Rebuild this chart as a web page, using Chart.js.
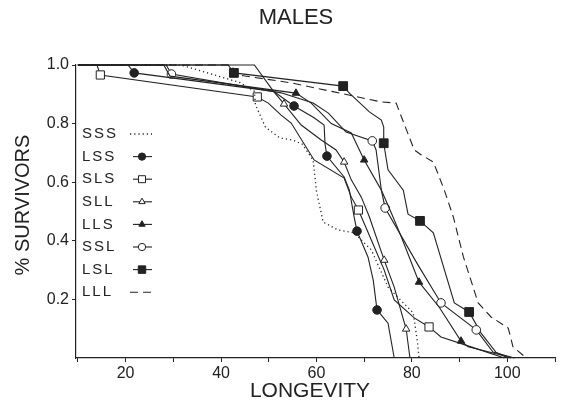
<!DOCTYPE html>
<html>
<head>
<meta charset="utf-8">
<script src="https://cdn.jsdelivr.net/npm/chart.js@4.4.0/dist/chart.umd.min.js"></script>
<style>
  html, body { margin: 0; padding: 0; background: #fff; }
</style>
</head>
<body>
<canvas id="males" width="577" height="404"></canvas>
<script>
// survival curves, [longevity, fraction surviving]
const sss = [[10,1],[31.6,1],[44,0.94],[47,0.91],[47.2,0.865],[49.3,0.788],[52.3,0.751],[55,0.744],[57,0.73],[59.3,0.676],[60,0.57],[61.4,0.464],[64.5,0.437],[67.9,0.427],[71.5,0.369],[75,0.242],[77.5,0.2],[80.3,0.154],[81.2,0.05],[81.5,0]];
const lss = [[10,1],[20.5,1],[21.8,0.973],[51,0.91],[55.3,0.86],[59.5,0.82],[61.6,0.795],[61.8,0.73],[62.2,0.689],[65.8,0.618],[66.9,0.573],[67.9,0.481],[68.5,0.433],[70.8,0.345],[71.9,0.266],[72.7,0.164],[75,0.119],[76.3,0]];
const sls = [[10,1],[14,1],[14.7,0.966],[47.6,0.891],[49.9,0.87],[52.6,0.829],[54.7,0.802],[59.5,0.676],[65.8,0.614],[67.3,0.549],[68.8,0.505],[71.5,0.403],[74.2,0.3],[76.3,0.198],[80.5,0.137],[83.6,0.106],[86.1,0.072],[92.4,0.038],[99.4,0]];
const sll = [[10,1],[47,1],[51,0.91],[53.2,0.867],[56.8,0.795],[61,0.744],[64.1,0.71],[65.8,0.669],[67.3,0.608],[69.4,0.549],[71.1,0.481],[74.2,0.334],[76.3,0.242],[78.8,0.099],[79.6,0]];
const lls = [[10,1],[28,1],[29.3,0.962],[55.7,0.904],[58.9,0.87],[63.1,0.8],[67.3,0.768],[70,0.676],[73.6,0.573],[75.7,0.495],[77.8,0.413],[81.5,0.259],[85.7,0.174],[90.3,0.058],[91.8,0.038],[98.7,0.01],[100.8,0]];
const ssl = [[10,1],[28.5,1],[29.6,0.969],[52.6,0.905],[59.3,0.87],[62.5,0.836],[66.2,0.771],[71.7,0.741],[72.5,0.71],[73.6,0.573],[74.4,0.512],[81.3,0.317],[86.1,0.188],[93.5,0.096],[97,0.02],[101.5,0]];
const lsl = [[10,1],[41.5,1],[42.7,0.973],[65.6,0.928],[66.9,0.904],[71.1,0.84],[73.6,0.812],[74.1,0.788],[74.1,0.733],[75,0.642],[78.2,0.573],[79.2,0.491],[81.7,0.468],[84.5,0.427],[88.9,0.188],[92,0.157],[94.5,0.085],[97.6,0.02],[100.2,0]];
const lll = [[10,1],[42,1],[43.6,0.966],[54.7,0.939],[73.6,0.874],[76.7,0.87],[80.5,0.71],[82,0.693],[84.5,0.669],[86.8,0.573],[88.7,0.481],[90.8,0.345],[93.9,0.188],[96.6,0.14],[100.2,0.102],[101.2,0.038],[104,0]];

// which points carry a symbol
const lssMarks = [2,4,8,12,15];
const slsMarks = [2,3,10,15];
const sllMarks = [3,7,11,13];
const llsMarks = [3,7,11,13];
const sslMarks = [2,7,10,12,13];
const lslMarks = [2,3,8,12,15];

const seriesNames = ["SSS","LSS","SLS","SLL","LLS","SSL","LSL","LLL"];
const xTicks = [10,20,30,40,50,60,70,80,90,100,110];
const xLabelled = [20,40,60,80,100];
const yTicks = [0.2,0.4,0.6,0.8,1.0];

const ink = '#222';
const font = '"Liberation Sans", Arial, sans-serif';

function curve(label, pts, marks, style, r, filled, dash) {
  return {
    label: label,
    data: pts.map(p => ({x: p[0], y: p[1]})),
    borderColor: ink,
    borderWidth: dash && dash[0] < 2 ? 1.3 : 1.1,
    borderDash: dash || [],
    pointStyle: style || 'circle',
    pointRadius: pts.map((p, i) => marks && marks.includes(i) ? r : 0),
    pointHoverRadius: 0,
    pointBackgroundColor: filled ? ink : '#fff',
    pointBorderColor: ink,
    pointBorderWidth: 1,
    tension: 0,
    fill: false,
    clip: false
  };
}

const datasets = [
  curve("SSS", sss, null, 'circle', 0, false, [1.2, 3]),
  curve("LSS", lss, lssMarks, 'circle', 4.3, true),
  curve("SLS", sls, slsMarks, 'rect', 5.8, false),
  curve("SLL", sll, sllMarks, 'triangle', 4.3, false),
  curve("LLS", lls, llsMarks, 'triangle', 4.3, true),
  curve("SSL", ssl, sslMarks, 'circle', 4.3, false),
  curve("LSL", lsl, lslMarks, 'rect', 6.2, true),
  curve("LLL", lll, null, 'circle', 0, false, [8, 5])
];

// title, axis titles and the key drawn inside the plot
const textPlugin = {
  id: 'texts',
  afterDraw(chart) {
    const ctx = chart.ctx;
    ctx.save();
    ctx.fillStyle = ink;
    ctx.textBaseline = 'middle';
    ctx.textAlign = 'center';
    ctx.font = '22px ' + font;
    ctx.fillText('MALES', 296, 18);
    ctx.font = '21px ' + font;
    ctx.fillText('LONGEVITY', 310, 391);
    ctx.save();
    ctx.translate(23, 205);
    ctx.rotate(-Math.PI / 2);
    ctx.font = '20px ' + font;
    ctx.fillText('% SURVIVORS', 0, 0);
    ctx.restore();

    ctx.textAlign = 'left';
    ctx.font = '15px ' + font;
    ctx.letterSpacing = '2px';
    seriesNames.forEach((name, i) => {
      const y = 134 + i * 22.6;
      const ds = chart.data.datasets[i];
      ctx.fillStyle = ink;
      ctx.fillText(name, 82, y);
      ctx.strokeStyle = ink;
      ctx.lineWidth = ds.borderWidth;
      ctx.setLineDash(ds.borderDash);
      ctx.beginPath();
      ctx.moveTo(i === 0 || i === 7 ? 130 : 133, y);
      ctx.lineTo(152, y);
      ctx.stroke();
      ctx.setLineDash([]);
      const r = Math.max(...ds.pointRadius);
      if (r > 0) {
        ctx.fillStyle = ds.pointBackgroundColor;
        ctx.lineWidth = 1;
        Chart.helpers.drawPoint(ctx, {pointStyle: ds.pointStyle, radius: r * 0.85, borderWidth: 1, rotation: 0}, 142, y);
      }
    });
    ctx.restore();
  }
};

new Chart(document.getElementById('males'), {
  type: 'line',
  data: { datasets: datasets },
  options: {
    responsive: false,
    animation: false,
    layout: { padding: { top: 65, right: 22, left: 0, bottom: 0 } },
    scales: {
      x: {
        type: 'linear',
        min: 9.6,
        max: 110,
        afterBuildTicks: s => { s.ticks = xTicks.map(v => ({value: v})); },
        afterFit: s => { s.height = 46; },
        ticks: {
          autoSkip: false,
          maxRotation: 0,
          padding: 2,
          color: ink,
          font: { family: font, size: 16 },
          callback: v => xLabelled.includes(v) ? String(v) : ''
        },
        grid: { drawOnChartArea: false, drawTicks: true, tickLength: 4, color: ink },
        border: { display: true, color: ink, width: 1.2 }
      },
      y: {
        type: 'linear',
        min: 0,
        max: 1,
        afterBuildTicks: s => { s.ticks = yTicks.map(v => ({value: v})); },
        afterFit: s => { s.width = 76; },
        ticks: {
          padding: 3,
          color: ink,
          font: { family: font, size: 16 },
          callback: v => v.toFixed(1)
        },
        grid: { drawOnChartArea: false, drawTicks: true, tickLength: 4, color: ink },
        border: { display: true, color: ink, width: 1.2 }
      }
    },
    plugins: {
      legend: { display: false },
      tooltip: { enabled: false }
    }
  },
  plugins: [textPlugin]
});
</script>
</body>
</html>
